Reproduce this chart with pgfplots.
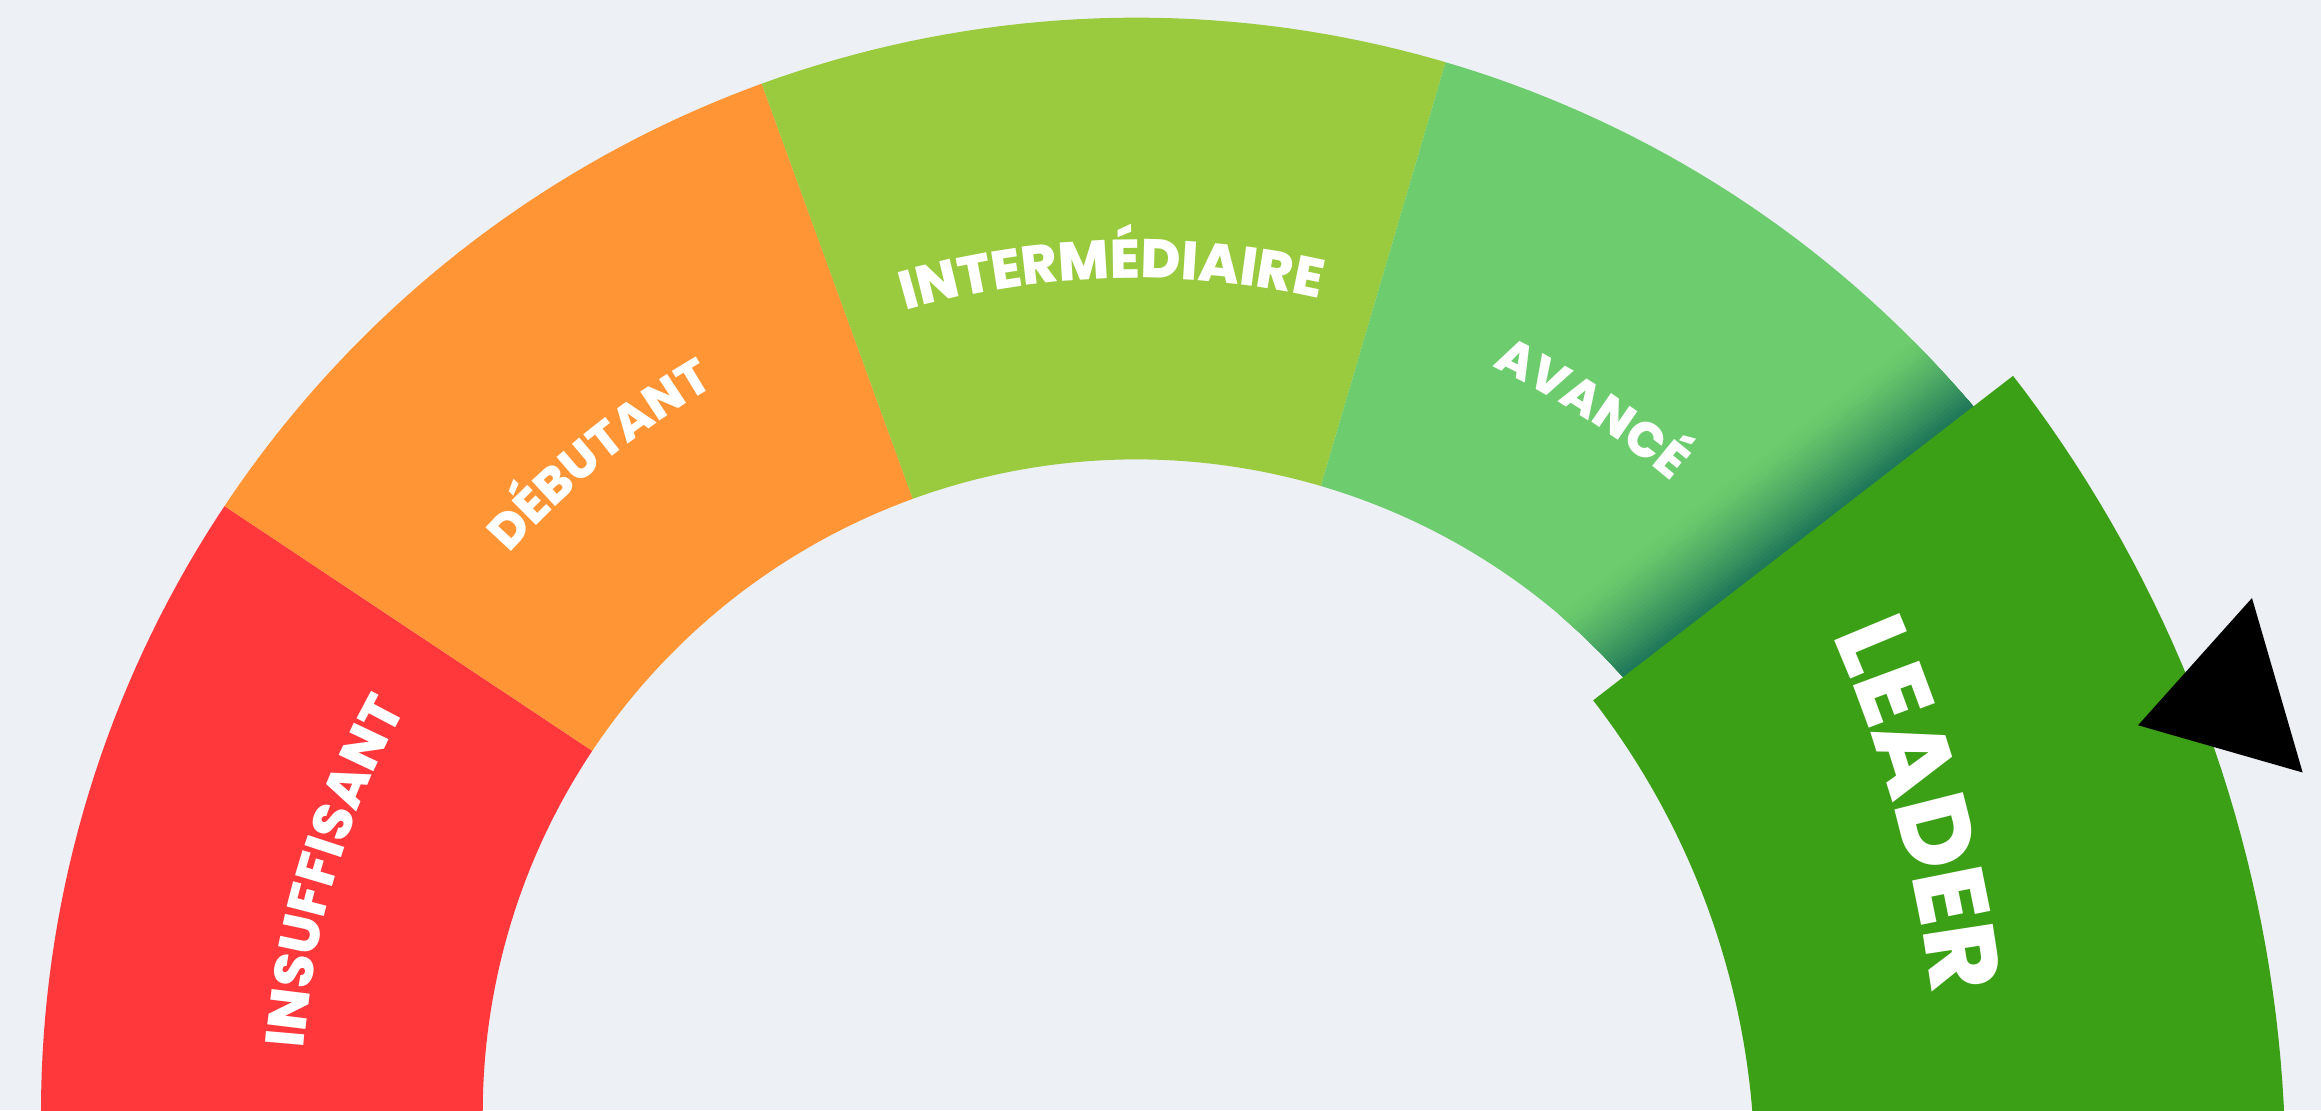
\documentclass[border=0pt]{standalone}
\usepackage{fontspec}
\usepackage{pgfplots}
\pgfplotsset{compat=1.18}
\usetikzlibrary{decorations.text}
\newfontfamily\labfont[BoldFont={Poppins ExtraBold}]{Poppins}
\definecolor{bgc}{HTML}{EDF0F5}
\definecolor{cinsuf}{HTML}{FF383C}
\definecolor{cdebut}{HTML}{FF9534}
\definecolor{cinter}{HTML}{9ACB3F}
\definecolor{cavance}{HTML}{6DCC6D}
\definecolor{cleader}{HTML}{3BA015}
\definecolor{cshadow}{HTML}{1E7658}
\newcommand\smalllab{\labfont\bfseries\fontsize{15.5}{15.5}\selectfont}
\newcommand\smalllabB{\labfont\bfseries\fontsize{14}{14}\selectfont}
\newcommand\biglab{\labfont\bfseries\fontsize{28.5}{28.5}\selectfont}
\begin{document}
\begin{tikzpicture}
\path[use as bounding box, fill=bgc] (0,0) rectangle (23.21,11.10);
\begin{axis}[at={(0,0)}, anchor=south west,
    x=0.01cm, y=0.01cm,
    xmin=-1137, xmax=1184, ymin=3, ymax=1113,
    enlargelimits=false, hide axis, clip=true]

% gauge bands, (angle, radius) around the gauge centre
\addplot[data cs=polar, fill=cinsuf, draw=none] coordinates {
 (186,1096) (185,1096) (184,1096) (183,1096) (182,1096) (181,1096) (180,1096) (179,1096) (178,1096) (177,1096)
 (176,1096) (175,1096) (174,1096) (173,1096) (172,1096) (171,1096) (170,1096) (169,1096) (168,1096) (167,1096)
 (166,1096) (165,1096) (164,1096) (163,1096) (162,1096) (161,1096) (160,1096) (159,1096) (158,1096) (157,1096)
 (156,1096) (155,1096) (154,1096) (153,1096) (152,1096) (151,1096) (150,1096) (149,1096) (148,1096) (147,1096)
 (146.35,1096)
 (146.35,654) (147,654) (148,654) (149,654) (150,654) (151,654) (152,654) (153,654) (154,654) (155,654)
 (156,654) (157,654) (158,654) (159,654) (160,654) (161,654) (162,654) (163,654) (164,654) (165,654)
 (166,654) (167,654) (168,654) (169,654) (170,654) (171,654) (172,654) (173,654) (174,654) (175,654)
 (176,654) (177,654) (178,654) (179,654) (180,654) (181,654) (182,654) (183,654) (184,654) (185,654) (186,654)};
\addplot[data cs=polar, fill=cdebut, draw=none] coordinates {
 (146.35,1096) (146,1096) (145,1096) (144,1096) (143,1096) (142,1096) (141,1096) (140,1096) (139,1096) (138,1096)
 (137,1096) (136,1096) (135,1096) (134,1096) (133,1096) (132,1096) (131,1096) (130,1096) (129,1096) (128,1096)
 (127,1096) (126,1096) (125,1096) (124,1096) (123,1096) (122,1096) (121,1096) (120,1096) (119,1096) (118,1096)
 (117,1096) (116,1096) (115,1096) (114,1096) (113,1096) (112,1096) (111,1096) (110,1096)
 (110,654) (111,654) (112,654) (113,654) (114,654) (115,654) (116,654) (117,654) (118,654) (119,654)
 (120,654) (121,654) (122,654) (123,654) (124,654) (125,654) (126,654) (127,654) (128,654) (129,654)
 (130,654) (131,654) (132,654) (133,654) (134,654) (135,654) (136,654) (137,654) (138,654) (139,654)
 (140,654) (141,654) (142,654) (143,654) (144,654) (145,654) (146,654) (146.35,654)};
\addplot[data cs=polar, fill=cinter, draw=none] coordinates {
 (110,1096) (109,1096) (108,1096) (107,1096) (106,1096) (105,1096) (104,1096) (103,1096) (102,1096) (101,1096)
 (100,1096) (99,1096) (98,1096) (97,1096) (96,1096) (95,1096) (94,1096) (93,1096) (92,1096) (91,1096)
 (90,1096) (89,1096) (88,1096) (87,1096) (86,1096) (85,1096) (84,1096) (83,1096) (82,1096) (81,1096)
 (80,1096) (79,1096) (78,1096) (77,1096) (76,1096) (75,1096) (74,1096) (73.6,1096)
 (73.6,654) (74,654) (75,654) (76,654) (77,654) (78,654) (79,654) (80,654) (81,654) (82,654)
 (83,654) (84,654) (85,654) (86,654) (87,654) (88,654) (89,654) (90,654) (91,654) (92,654)
 (93,654) (94,654) (95,654) (96,654) (97,654) (98,654) (99,654) (100,654) (101,654) (102,654)
 (103,654) (104,654) (105,654) (106,654) (107,654) (108,654) (109,654) (110,654)};
\addplot[data cs=polar, fill=cavance, draw=none] coordinates {
 (73.6,1096) (73,1096) (72,1096) (71,1096) (70,1096) (69,1096) (68,1096) (67,1096) (66,1096) (65,1096)
 (64,1096) (63,1096) (62,1096) (61,1096) (60,1096) (59,1096) (58,1096) (57,1096) (56,1096) (55,1096)
 (54,1096) (53,1096) (52,1096) (51,1096) (50,1096) (49,1096) (48,1096) (47,1096) (46,1096) (45,1096)
 (44,1096) (43,1096) (42,1096) (41,1096) (40,1096) (39,1096) (38,1096) (37.2,1096)
 (37.2,654) (38,654) (39,654) (40,654) (41,654) (42,654) (43,654) (44,654) (45,654) (46,654)
 (47,654) (48,654) (49,654) (50,654) (51,654) (52,654) (53,654) (54,654) (55,654) (56,654)
 (57,654) (58,654) (59,654) (60,654) (61,654) (62,654) (63,654) (64,654) (65,654) (66,654)
 (67,654) (68,654) (69,654) (70,654) (71,654) (72,654) (73,654) (73.6,654)};

% shadow cast by the leader band on the "avance" band (strips parallel to its edge)
\addplot[fill=cshadow!1!cavance, draw=none] coordinates {(837.53,706.87) (776.47,773.44) (422.07,499.53) (444.94,479.28) (466.66,458.16) (487.27,436.17)};
\addplot[fill=cshadow!3!cavance, draw=none] coordinates {(837.53,706.87) (779.14,770.75) (425.00,497.04) (444.94,479.28) (466.66,458.16) (487.27,436.17)};
\addplot[fill=cshadow!5!cavance, draw=none] coordinates {(837.53,706.87) (781.79,768.06) (427.89,494.54) (444.94,479.28) (466.66,458.16) (487.27,436.17)};
\addplot[fill=cshadow!8!cavance, draw=none] coordinates {(837.53,706.87) (784.43,765.37) (430.78,492.04) (444.94,479.28) (466.66,458.16) (487.27,436.17)};
\addplot[fill=cshadow!11!cavance, draw=none] coordinates {(837.53,706.87) (787.06,762.65) (433.65,489.51) (444.94,479.28) (466.66,458.16) (487.27,436.17)};
\addplot[fill=cshadow!15!cavance, draw=none] coordinates {(837.53,706.87) (789.68,759.94) (436.50,486.97) (444.94,479.28) (466.66,458.16) (487.27,436.17)};
\addplot[fill=cshadow!18!cavance, draw=none] coordinates {(837.53,706.87) (792.29,757.22) (439.32,484.42) (444.94,479.28) (466.66,458.16) (487.27,436.17)};
\addplot[fill=cshadow!22!cavance, draw=none] coordinates {(837.53,706.87) (794.90,754.49) (442.14,481.86) (466.66,458.16) (487.27,436.17)};
\addplot[fill=cshadow!26!cavance, draw=none] coordinates {(837.53,706.87) (797.48,751.75) (444.94,479.28) (466.66,458.16) (487.27,436.17)};
\addplot[fill=cshadow!30!cavance, draw=none] coordinates {(837.53,706.87) (800.06,749.00) (447.71,476.68) (466.66,458.16) (487.27,436.17)};
\addplot[fill=cshadow!34!cavance, draw=none] coordinates {(837.53,706.87) (802.63,746.25) (450.48,474.08) (466.66,458.16) (487.27,436.17)};
\addplot[fill=cshadow!38!cavance, draw=none] coordinates {(837.53,706.87) (805.19,743.49) (453.21,471.45) (466.66,458.16) (487.27,436.17)};
\addplot[fill=cshadow!43!cavance, draw=none] coordinates {(837.53,706.87) (807.74,740.72) (455.94,468.82) (466.66,458.16) (487.27,436.17)};
\addplot[fill=cshadow!47!cavance, draw=none] coordinates {(837.53,706.87) (810.28,737.95) (458.65,466.18) (466.66,458.16) (487.27,436.17)};
\addplot[fill=cshadow!52!cavance, draw=none] coordinates {(837.53,706.87) (812.81,735.16) (461.33,463.51) (466.66,458.16) (487.27,436.17)};
\addplot[fill=cshadow!57!cavance, draw=none] coordinates {(837.53,706.87) (815.32,732.36) (464.00,460.84) (466.66,458.16) (487.27,436.17)};
\addplot[fill=cshadow!61!cavance, draw=none] coordinates {(837.53,706.87) (817.82,729.57) (466.66,458.16) (487.27,436.17)};
\addplot[fill=cshadow!66!cavance, draw=none] coordinates {(837.53,706.87) (820.33,726.76) (469.30,455.45) (487.27,436.17)};
\addplot[fill=cshadow!71!cavance, draw=none] coordinates {(837.53,706.87) (822.82,723.94) (471.91,452.73) (487.27,436.17)};
\addplot[fill=cshadow!76!cavance, draw=none] coordinates {(837.53,706.87) (825.29,721.11) (474.51,450.00) (487.27,436.17)};
\addplot[fill=cshadow!82!cavance, draw=none] coordinates {(837.53,706.87) (827.76,718.28) (477.10,447.27) (487.27,436.17)};
\addplot[fill=cshadow!87!cavance, draw=none] coordinates {(837.53,706.87) (830.21,715.44) (479.67,444.51) (487.27,436.17)};
\addplot[fill=cshadow!92!cavance, draw=none] coordinates {(837.53,706.87) (832.66,712.59) (482.21,441.74) (487.27,436.17)};
\addplot[fill=cshadow!97!cavance, draw=none] coordinates {(837.53,706.87) (835.10,709.74) (484.76,438.97) (487.27,436.17)};

% highlighted band, pulled out and enlarged around its own centre
\addplot[data cs=polar, fill=cleader, draw=none, xshift=-1.56cm, yshift=-0.61cm] coordinates {
 (37.7,1306) (37,1306) (36,1306) (35,1306) (34,1306) (33,1306) (32,1306) (31,1306) (30,1306) (29,1306)
 (28,1306) (27,1306) (26,1306) (25,1306) (24,1306) (23,1306) (22,1306) (21,1306) (20,1306) (19,1306)
 (18,1306) (17,1306) (16,1306) (15,1306) (14,1306) (13,1306) (12,1306) (11,1306) (10,1306) (9,1306)
 (8,1306) (7,1306) (6,1306) (5,1306) (4,1306) (3,1306) (2,1306) (1,1306) (0,1306) (-1,1306)
 (-2,1306) (-3,1306) (-4,1306) (-5,1306) (-6,1306) (-7,1306) (-8,1306) (-9,1306) (-10,1306)
 (-10,775) (-9,775) (-8,775) (-7,775) (-6,775) (-5,775) (-4,775) (-3,775) (-2,775) (-1,775)
 (0,775) (1,775) (2,775) (3,775) (4,775) (5,775) (6,775) (7,775) (8,775) (9,775)
 (10,775) (11,775) (12,775) (13,775) (14,775) (15,775) (16,775) (17,775) (18,775) (19,775)
 (20,775) (21,775) (22,775) (23,775) (24,775) (25,775) (26,775) (27,775) (28,775) (29,775)
 (30,775) (31,775) (32,775) (33,775) (34,775) (35,775) (36,775) (37,775) (37.7,775)};

% pointer
\addplot[fill=black, draw=none] coordinates {(1116.3,515.3) (1002.3,388) (1167,340.7)} -- cycle;

% band labels
\path[decorate, decoration={text along path, text color=white, text align=center,
  text={|\smalllab|INSUFFISANT}}]
  (axis cs:0,0) ++(183.3:8.35cm) arc[start angle=183.3, end angle=143.3, radius=8.35cm];
\path[decorate, decoration={text along path, text color=white, text align=center,
  text={|\smalllabB|DÉBUTANT}}]
  (axis cs:0,0) ++(149.2:8.40cm) arc[start angle=149.2, end angle=109.2, radius=8.40cm];
\path[decorate, decoration={text along path, text color=white, text align=center,
  text={|\smalllab|INTERMÉDIAIRE}}]
  (axis cs:0,0) ++(111.7:8.35cm) arc[start angle=111.7, end angle=71.7, radius=8.35cm];
\path[decorate, decoration={text along path, text color=white, text align=center,
  text={|\smalllabB|AVANCÉ}}]
  (axis cs:0,0) ++(77.1:8.27cm) arc[start angle=77.1, end angle=37.1, radius=8.27cm];
\path[decorate, decoration={text along path, text color=white, text align=center,
  text={|\biglab|LEADER}}]
  (axis cs:-502,-48) ++(35.5:13.08cm) arc[start angle=35.5, end angle=-4.5, radius=13.08cm];
\end{axis}
\end{tikzpicture}
\end{document}
